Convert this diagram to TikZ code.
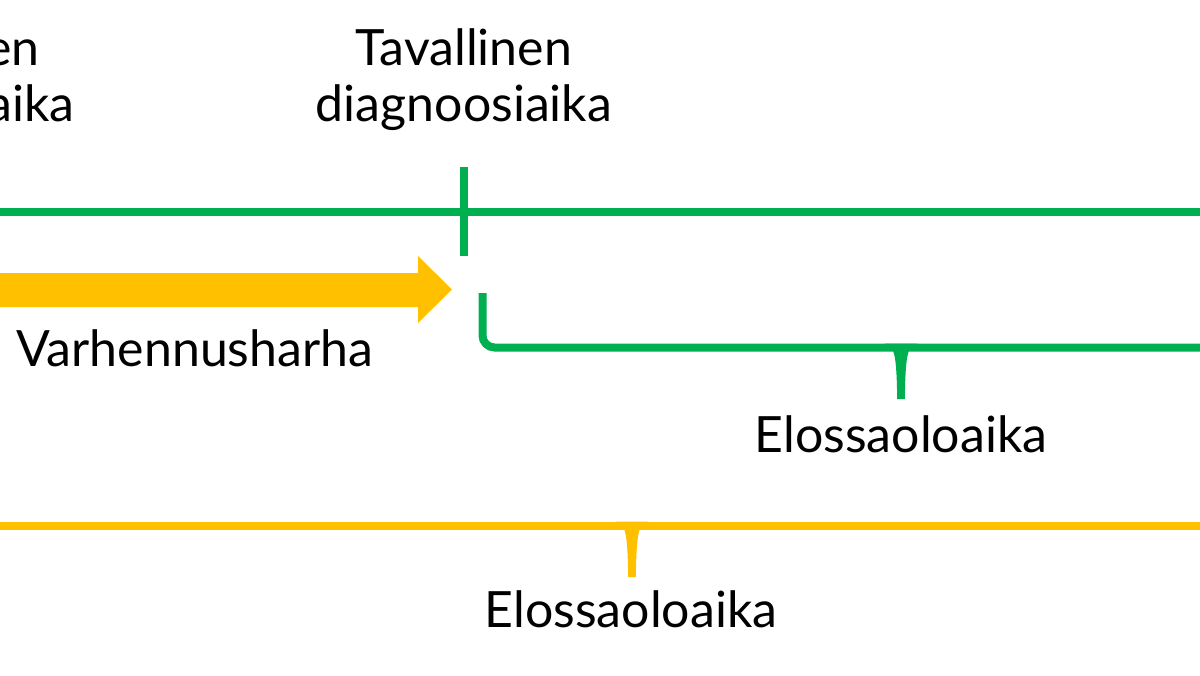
\documentclass[tikz,border=0pt]{standalone}
\usepackage{fontspec}
\setmainfont{Lato}
\definecolor{grn}{HTML}{00B050}
\definecolor{org}{HTML}{FFC000}
\tikzset{
  gline/.style={draw=grn, line width=6pt},
  oline/.style={draw=org, line width=6pt},
  lbl/.style={font=\fontsize{37.5}{45}\selectfont, inner sep=0pt, text=black},
  cusp/.pic={\fill[pic actions] (-17,-4) .. controls (-6,-4) and (-4.5,10) .. (-3.8,51.5) -- (3.8,51.5) .. controls (4.5,10) and (6,-4) .. (17,-4) -- cycle;}
}
\begin{document}
\begin{tikzpicture}[x=0.75pt,y=-0.75pt]
\useasboundingbox (0,0) rectangle (1200,675);
\clip (0,0) rectangle (1200,675);
% labels
\node[lbl, anchor=base] (tav1) at (464,65) {Tavallinen};
\node[lbl, anchor=base] (tav2) at (464,121) {diagnoosiaika};
\node[lbl, anchor=base east] (lft1) at (40,65) {en};
\node[lbl, anchor=base east] (lft2) at (75,121) {aika};
\node[lbl, anchor=base] (varh) at (195,366) {Varhennusharha};
\node[lbl, anchor=base] (elo1) at (901,452) {Elossaoloaika};
\node[lbl, anchor=base] (elo2) at (631,627) {Elossaoloaika};
% timeline
\coordinate (axL) at (-10,212);
\coordinate (axR) at (1210,212);
\draw[gline] (axL) -- (axR);
\coordinate (tickT) at (464,167);
\coordinate (tickB) at (464,256);
\draw[gline] (tickT) -- (tickB);
% lead-time arrow
\coordinate (arrTip) at (452,289.5);
\fill[org] (-10,273) -- (418,273) -- (418,256) -- (arrTip) -- (418,323) -- (418,307) -- (-10,307) -- cycle;
% green survival bracket
\coordinate (gS) at (482.5,293);
\coordinate (gC) at (482.5,347.5);
\coordinate (gE) at (1210,347.5);
\draw[gline, rounded corners=9pt] (gS) -- (gC) -- (gE);
\pic[fill=grn] at (901,347.5) {cusp};
% orange survival bracket
\coordinate (oS) at (-10,525.5);
\coordinate (oE) at (1210,525.5);
\draw[oline] (oS) -- (oE);
\pic[fill=org] at (632,525.5) {cusp};
\end{tikzpicture}
\end{document}
